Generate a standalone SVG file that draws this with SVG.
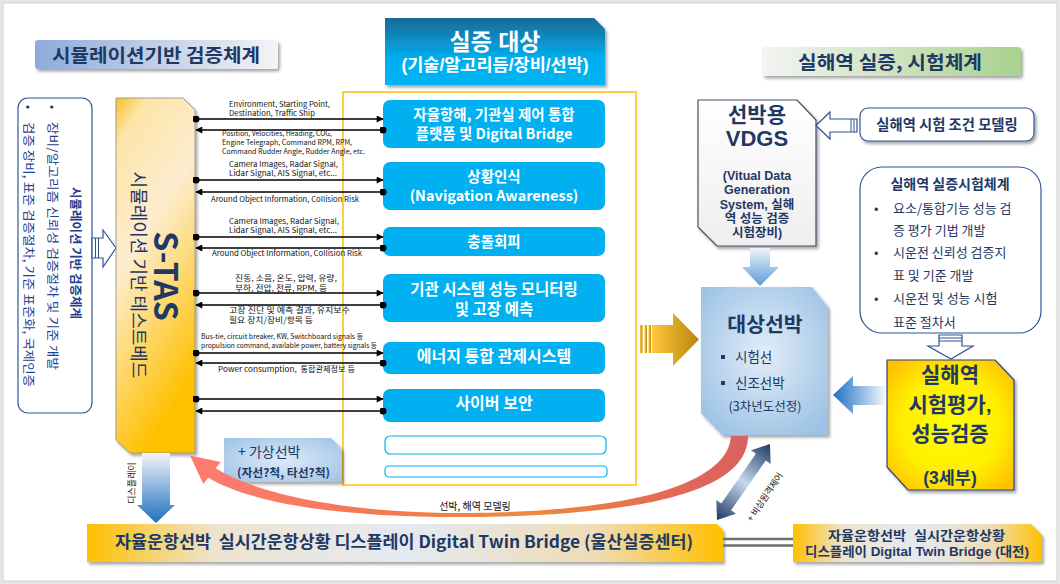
<svg xmlns="http://www.w3.org/2000/svg" width="1060" height="584" viewBox="0 0 1060 584">
<defs>
<style>
text{font-family:'Noto Sans CJK KR','Noto Sans',sans-serif}
text.lf{font-family:'Liberation Sans','Noto Sans CJK KR',sans-serif}
.b{font-weight:700}
.nv{fill:#1f3864}
.wt{fill:#fff;font-weight:700;text-anchor:middle}
.sm{fill:#111}
.mid{text-anchor:middle}
.ln{stroke:#000;stroke-width:1.3;fill:none;marker-start:url(#dot);marker-end:url(#arr)}
.bb{fill:#00b0f0}
.eb{fill:#fff;stroke:#00b0f0;stroke-width:1.2}
.hol{fill:#fff;stroke:#2f5597;stroke-width:1.2}
.stp{stroke:#2f5597;stroke-width:1}
.lb{fill:#1f3f8f}
</style>
<marker id="arr" viewBox="0 0 10 10" refX="9" refY="5" markerWidth="9" markerHeight="7" orient="auto" markerUnits="userSpaceOnUse"><path d="M0,0L10,5L0,10z"/></marker>
<marker id="dot" viewBox="0 0 10 10" refX="5" refY="5" markerWidth="7" markerHeight="7" markerUnits="userSpaceOnUse"><circle cx="5" cy="5" r="5"/></marker>
<filter id="sh" x="-10%" y="-10%" width="130%" height="140%"><feDropShadow dx="2" dy="2.5" stdDeviation="1.5" flood-color="#000" flood-opacity="0.35"/></filter>
<linearGradient id="gLB" x1="0" y1="0" x2="1" y2="0"><stop offset="0" stop-color="#8eaadb"/><stop offset="1" stop-color="#f4f4f4"/></linearGradient>
<linearGradient id="gRB" x1="0" y1="0" x2="1" y2="0"><stop offset="0" stop-color="#f4f4f4"/><stop offset="1" stop-color="#a9d18e"/></linearGradient>
<linearGradient id="gTop" x1="0" y1="0" x2="0" y2="1"><stop offset="0" stop-color="#1a6996"/><stop offset="0.6" stop-color="#00aeee"/><stop offset="1" stop-color="#00b4f4"/></linearGradient>
<linearGradient id="gSt" x1="0" y1="0" x2="0.35" y2="1"><stop offset="0" stop-color="#fbbf2a"/><stop offset="0.12" stop-color="#fde4a6"/><stop offset="0.45" stop-color="#fdedd0"/><stop offset="1" stop-color="#ffc000"/></linearGradient>
<linearGradient id="gGold" x1="0" y1="0" x2="1" y2="0"><stop offset="0" stop-color="#ffc83c"/><stop offset="1" stop-color="#b8860b"/></linearGradient>
<linearGradient id="gBD" x1="0" y1="0" x2="0" y2="1"><stop offset="0" stop-color="#f3f6fa"/><stop offset="1" stop-color="#1f6fc0"/></linearGradient>
<linearGradient id="gBD2" x1="0" y1="0" x2="0" y2="1"><stop offset="0" stop-color="#eef4fa"/><stop offset="1" stop-color="#5b9bd5"/></linearGradient>
<linearGradient id="gBL" x1="0" y1="0" x2="1" y2="0"><stop offset="0" stop-color="#1a6fc4"/><stop offset="1" stop-color="#f4f7fb"/></linearGradient>
<radialGradient id="gT" cx="0.5" cy="0.45" r="0.65"><stop offset="0" stop-color="#e2edf8"/><stop offset="1" stop-color="#9cc2e5"/></radialGradient>
<radialGradient id="gY" cx="0.5" cy="0.5" r="0.65"><stop offset="0" stop-color="#ffff00"/><stop offset="0.6" stop-color="#ffee00"/><stop offset="1" stop-color="#ffc000"/></radialGradient>
<linearGradient id="gVd" x1="0" y1="0" x2="0" y2="1"><stop offset="0" stop-color="#ffffff"/><stop offset="1" stop-color="#eeeeee"/></linearGradient>
<radialGradient id="gV" cx="0.5" cy="0.5" r="0.7"><stop offset="0" stop-color="#dfeaf7"/><stop offset="1" stop-color="#9dc3e6"/></radialGradient>
<linearGradient id="gBot" x1="0" y1="0" x2="1" y2="0"><stop offset="0" stop-color="#ffc000"/><stop offset="0.2" stop-color="#eee3cf"/><stop offset="0.5" stop-color="#e4eaf2"/><stop offset="0.8" stop-color="#efdcb5"/><stop offset="1" stop-color="#ffc000"/></linearGradient>
<linearGradient id="gRed" gradientUnits="userSpaceOnUse" x1="190" y1="0" x2="750" y2="0"><stop offset="0" stop-color="#ff7b73"/><stop offset="0.35" stop-color="#f4794f"/><stop offset="0.6" stop-color="#ed8a3a"/><stop offset="0.85" stop-color="#e36a55"/><stop offset="1" stop-color="#d96060"/></linearGradient>
<linearGradient id="gDbl" gradientUnits="userSpaceOnUse" x1="0" y1="0" x2="92.6" y2="0"><stop offset="0" stop-color="#203864"/><stop offset="0.5" stop-color="#c5d9ef"/><stop offset="1" stop-color="#203864"/></linearGradient>
</defs>

<rect width="1060" height="584" fill="#e6e6e6"/>
<rect x="3" y="3" width="1054" height="578" fill="#fff" stroke="#d0d0d0" stroke-width="1"/>

<g id="title-left">
<rect x="35" y="40" width="243" height="29" rx="3" fill="url(#gLB)" filter="url(#sh)"/>
<text x="52" y="61.5" class="b nv" font-size="18.5" textLength="208" lengthAdjust="spacingAndGlyphs">시뮬레이션기반 검증체계</text>
</g>

<g id="left-box">
<rect x="18" y="98" width="74" height="315" rx="10" fill="#fff" stroke="#2f5597" stroke-width="1.2"/>
<text transform="translate(75,253) rotate(90)" dy=".35em" class="mid b lb" font-size="12.5">시뮬레이션 기반 검증체계</text>
<text transform="translate(52,107) rotate(90)" dy=".35em" class="mid lb" font-size="12.5">•</text>
<text transform="translate(52,122) rotate(90)" dy=".35em" class="lb" font-size="12.5" textLength="248" lengthAdjust="spacingAndGlyphs">장비/알고리즘 신뢰성 검증절차 및 기준 개발</text>
<text transform="translate(28,107) rotate(90)" dy=".35em" class="mid lb" font-size="12.5">•</text>
<text transform="translate(28,122) rotate(90)" dy=".35em" class="lb" font-size="12.5" textLength="265" lengthAdjust="spacingAndGlyphs">검증 장비, 표준 검증절차, 기준 표준화, 국제인증</text>
</g>

<g id="arrow-left-hollow">
<path class="hol" d="M92,238 L103,238 L103,230 L116,248 L103,267 L103,258 L92,258 Z"/>
<line class="stp" x1="95.5" y1="238" x2="95.5" y2="258"/>
<line class="stp" x1="98.5" y1="238" x2="98.5" y2="258"/>
</g>

<g id="stas">
<path d="M116,98 L183,98 L195,110 L195,453 L130,453 L116,440 Z" fill="url(#gSt)" stroke="#8a8a8a" stroke-width="0.8" filter="url(#sh)"/>
<text transform="translate(165,276) rotate(90)" dy=".34em" class="mid b nv" font-size="32">S-TAS</text>
<text transform="translate(138,275) rotate(90)" dy=".35em" class="mid nv" font-size="18">시뮬레이션 기반 테스트베드</text>
</g>

<g id="container">
<rect x="343" y="92" width="293" height="393" fill="#fff" stroke="#ffc000" stroke-width="1.5"/>
</g>

<g id="title-center">
<path d="M385,18 L594,18 L605,29 L605,85 L385,85 Z" fill="url(#gTop)" filter="url(#sh)"/>
<text class="lf wt"><tspan x="495" y="50" font-size="23">실증 대상</tspan><tspan x="495" y="71" font-size="17.5">(기술/알고리듬/장비/선박)</tspan></text>
</g>

<g id="box-nav">
<rect class="bb" x="383" y="100" width="222" height="48" rx="7"/>
<text class="wt" font-size="14.5"><tspan x="494" y="120">자율항해, 기관실 제어 통합</tspan><tspan x="494" y="139">플랫폼 및 Digital Bridge</tspan></text>
</g>
<g id="box-aware">
<rect class="bb" x="383" y="162" width="222" height="48" rx="7"/>
<text class="wt" font-size="14.5"><tspan x="494" y="182">상황인식</tspan><tspan x="494" y="201">(Navigation Awareness)</tspan></text>
</g>
<g id="box-collision">
<rect class="bb" x="383" y="227" width="222" height="29" rx="7"/>
<text x="494" y="247" class="wt" font-size="14.5">충돌회피</text>
</g>
<g id="box-engine">
<rect class="bb" x="383" y="274" width="222" height="48" rx="7"/>
<text class="wt" font-size="15.5"><tspan x="494" y="294.5">기관 시스템 성능 모니터링</tspan><tspan x="494" y="314.5">및 고장 예측</tspan></text>
</g>
<g id="box-energy">
<rect class="bb" x="383" y="342" width="222" height="32" rx="7"/>
<text x="494" y="361.6" class="wt" font-size="16">에너지 통합 관제시스템</text>
</g>
<g id="box-cyber">
<rect class="bb" x="383" y="389" width="222" height="33" rx="7"/>
<text x="494" y="408.6" class="wt" font-size="16">사이버 보안</text>
</g>
<g id="box-empty1"><rect class="eb" x="385" y="436" width="221" height="18" rx="5"/></g>
<g id="box-empty2"><rect class="eb" x="385" y="466" width="222" height="11" rx="4"/></g>

<g id="connectors">
<path class="ln" d="M196,119 L383,119"/>
<path class="ln" d="M383,130 L196,130"/>
<path class="ln" d="M196,180 L383,180"/>
<path class="ln" d="M383,192 L196,192"/>
<path class="ln" d="M196,237 L383,237"/>
<path class="ln" d="M383,248 L196,248"/>
<path class="ln" d="M196,293 L383,293"/>
<path class="ln" d="M383,305 L196,305"/>
<path class="ln" d="M196,353 L383,353"/>
<path class="ln" d="M383,363 L196,363"/>
<path class="ln" d="M196,399 L383,399"/>
<path class="ln" d="M383,411 L196,411"/>
<text class="sm" font-size="7.5"><tspan x="229" y="106.5" textLength="101" lengthAdjust="spacingAndGlyphs">Environment, Starting Point,</tspan><tspan x="229" y="115.5" textLength="86" lengthAdjust="spacingAndGlyphs">Destination, Traffic Ship</tspan></text>
<text class="sm" font-size="7"><tspan x="222" y="135.5" textLength="110" lengthAdjust="spacingAndGlyphs">Position, Velocities, Heading, COG,</tspan><tspan x="222" y="144.5" textLength="130" lengthAdjust="spacingAndGlyphs">Engine Telegraph, Command RPM, RPM,</tspan><tspan x="222" y="153.5" textLength="143" lengthAdjust="spacingAndGlyphs">Command Rudder Angle, Rudder Angle, etc.</tspan></text>
<text class="sm" font-size="7.5"><tspan x="229" y="166.5" textLength="109" lengthAdjust="spacingAndGlyphs">Camera Images, Radar Signal,</tspan><tspan x="229" y="175.5" textLength="108" lengthAdjust="spacingAndGlyphs">Lidar Signal, AIS Signal, etc...</tspan></text>
<text x="211" y="201.5" class="sm" font-size="7.5" textLength="148" lengthAdjust="spacingAndGlyphs">Around Object Information, Collision Risk</text>
<text class="sm" font-size="7.5"><tspan x="229" y="223.5" textLength="110" lengthAdjust="spacingAndGlyphs">Camera Images, Radar Signal,</tspan><tspan x="229" y="232.5" textLength="108" lengthAdjust="spacingAndGlyphs">Lidar Signal, AIS Signal, etc...</tspan></text>
<text x="212" y="255.5" class="sm" font-size="7.5" textLength="150" lengthAdjust="spacingAndGlyphs">Around Object Information, Collision Risk</text>
<text class="sm" font-size="8"><tspan x="235" y="281" textLength="102" lengthAdjust="spacingAndGlyphs">진동, 소음, 온도, 압력, 유량,</tspan><tspan x="235" y="291" textLength="92" lengthAdjust="spacingAndGlyphs">부하, 전압, 전류, RPM, 등</tspan></text>
<text class="sm" font-size="8"><tspan x="229" y="313" textLength="121" lengthAdjust="spacingAndGlyphs">고장 진단 및 예측 결과, 유지보수</tspan><tspan x="229" y="323" textLength="84" lengthAdjust="spacingAndGlyphs">필요 장치/장비/항목 등</tspan></text>
<text class="sm" font-size="7"><tspan x="201" y="338.5" textLength="162" lengthAdjust="spacingAndGlyphs">Bus-tie, circuit breaker, KW, Switchboard signals 등</tspan><tspan x="201" y="347.5" textLength="176" lengthAdjust="spacingAndGlyphs">propulsion command, available power, battery signals 등</tspan></text>
<text x="218" y="371.5" class="sm" font-size="7.5" textLength="137" lengthAdjust="spacingAndGlyphs" xml:space="preserve">Power consumption,  통합관제정보 등</text>
</g>

<g id="virtual-ship">
<path d="M224,438 L331,438 L342,449 L342,482 L224,482 Z" fill="url(#gV)" filter="url(#sh)"/>
<text class="nv"><tspan x="238" y="457" font-size="14">+ 가상선박</tspan><tspan x="237" y="477" font-size="11.5" font-weight="700" textLength="93" lengthAdjust="spacingAndGlyphs">(자선?척, 타선?척)</tspan></text>
</g>

<g id="arrow-gold">
<rect x="640" y="325" width="2.5" height="28" fill="url(#gGold)"/>
<rect x="644.5" y="325" width="2.5" height="28" fill="url(#gGold)"/>
<rect x="648.5" y="325" width="2.5" height="28" fill="url(#gGold)"/>
<path d="M652,325 L673,325 L673,313 L699,339.5 L673,366 L673,353 L652,353 Z" fill="url(#gGold)"/>
</g>

<g id="title-right">
<rect x="762" y="47" width="259" height="29" rx="3" fill="url(#gRB)" filter="url(#sh)"/>
<text x="798" y="69" class="b nv" font-size="18.5" textLength="184" lengthAdjust="spacingAndGlyphs">실해역 실증, 시험체계</text>
</g>

<g id="vdgs">
<path d="M698,100 L797,100 L816,120 L816,246 L717,246 L698,227 Z" fill="url(#gVd)" stroke="#404f6a" stroke-width="1.2" filter="url(#sh)"/>
<text class="lf mid b nv"><tspan x="757" y="121.5" font-size="21">선박용</tspan><tspan x="757" y="146" font-size="22">VDGS</tspan><tspan x="757" y="180" font-size="12.5">(Vitual Data</tspan><tspan x="757" y="194.3" font-size="12.5">Generation</tspan><tspan x="757" y="208.6" font-size="12.5">System, 실해</tspan><tspan x="757" y="222.9" font-size="12.5">역 성능 검증</tspan><tspan x="757" y="237.2" font-size="12.5">시험장비)</tspan></text>
</g>

<g id="arrow-model-hollow">
<path class="hol" d="M816,125.5 L830,112 L830,119 L857,119 L857,132 L830,132 L830,139 Z"/>
<line class="stp" x1="851" y1="119" x2="851" y2="132"/>
<line class="stp" x1="854" y1="119" x2="854" y2="132"/>
</g>

<g id="sea-model">
<rect x="860" y="108" width="174" height="33" rx="8" fill="#fff" stroke="#2f5597" stroke-width="1.2" filter="url(#sh)"/>
<text x="947" y="130" class="mid b nv" font-size="14.3">실해역 시험 조건 모델링</text>
</g>

<g id="sea-system">
<rect x="860" y="167" width="181" height="166" rx="22" fill="#fff" stroke="#2f5597" stroke-width="1.2"/>
<text x="950" y="189" class="mid b nv" font-size="14">실해역 실증시험체계</text>
<text class="nv" font-size="13"><tspan x="874" y="212.5">•</tspan><tspan x="893" y="212.5">요소/통합기능 성능 검</tspan><tspan x="893" y="234.5">증 평가 기법 개발</tspan><tspan x="874" y="256.5">•</tspan><tspan x="893" y="256.5">시운전 신뢰성 검증지</tspan><tspan x="893" y="279.5">표 및 기준 개발</tspan><tspan x="874" y="302.5">•</tspan><tspan x="893" y="302.5">시운전 및 성능 시험</tspan><tspan x="893" y="326.5">표준 절차서</tspan></text>
</g>

<g id="arrow-down-hollow">
<path class="hol" d="M939,335 L962,335 L962,346 L973,346 L951,359 L928,346 L939,346 Z"/>
<line class="stp" x1="939" y1="338" x2="962" y2="338"/>
<line class="stp" x1="939" y1="341" x2="962" y2="341"/>
</g>

<g id="sea-eval">
<path d="M887,360 L995,360 L1014,380 L1014,490 L908,490 L887,467 Z" fill="url(#gY)" stroke="#2f3f80" stroke-width="1.2" filter="url(#sh)"/>
<text class="lf mid b nv" font-size="21"><tspan x="950" y="382">실해역</tspan><tspan x="950" y="412">시험평가,</tspan><tspan x="950" y="441">성능검증</tspan><tspan x="950" y="484" font-size="17.5">(3세부)</tspan></text>
</g>

<g id="arrow-blue-left">
<path d="M833,395 L853,376 L853,386 L885,386 L885,405 L853,405 L853,414 Z" fill="url(#gBL)"/>
</g>

<g id="arrow-blue-down2">
<path d="M750,248 L770,248 L770,267 L779,267 L760,286 L742,267 L750,267 Z" fill="url(#gBD2)"/>
</g>

<g id="target-ship">
<path d="M701,287 L812,287 L828,307 L828,435 L722,435 L701,413 Z" fill="url(#gT)" filter="url(#sh)"/>
<text x="765" y="332" class="mid b nv" font-size="20.5">대상선박</text>
<rect x="721" y="355" width="4" height="4" fill="#1f3864"/>
<rect x="721" y="381" width="4" height="4" fill="#1f3864"/>
<text class="nv" font-size="13.5"><tspan x="735" y="361.7">시험선</tspan><tspan x="735" y="387.7">신조선박</tspan></text>
<text x="765" y="411.4" class="mid nv" font-size="12.5">(3차년도선정)</text>
</g>

<g id="red-curve">
<path d="M731,436 C728,482 640,511 470,513 C360,514 262,497 215.7,468.3 L220.7,462.1 L190,455.6 L203.3,483.9 L208.3,477.7 C258,507 360,518 470,517 C650,515 748,490 748,436 Z" fill="url(#gRed)"/>
<text x="475" y="509.5" class="mid sm" font-size="10">선박, 해역 모델링</text>
</g>

<g id="arrow-remote">
<path transform="translate(717,520) rotate(-55.1)" d="M0,0 L16,-12 L16,-6 L76.6,-6 L76.6,-12 L92.6,0 L76.6,12 L76.6,6 L16,6 L16,12 Z" fill="url(#gDbl)"/>
<text transform="translate(765,497) rotate(-56)" dy=".35em" class="mid sm" font-size="9">+ 비상원격제어</text>
</g>

<g id="arrow-blue-down">
<path d="M142,453 L170,453 L170,505 L175,505 L156,523 L137,505 L142,505 Z" fill="url(#gBD)"/>
<text transform="translate(132,483) rotate(-90)" dy=".35em" class="mid sm" font-size="9">디스플레이</text>
</g>

<g id="bridge-ulsan">
<path d="M87,524 L717,524 L723,530 L723,562 L87,562 Z" fill="url(#gBot)" filter="url(#sh)"/>
<text x="115" y="548" class="b nv" font-size="17" textLength="578" lengthAdjust="spacingAndGlyphs" xml:space="preserve">자율운항선박  실시간운항상황 디스플레이 Digital Twin Bridge (울산실증센터)</text>
</g>

<g id="link-bridges">
<line x1="723" y1="539" x2="793" y2="539" stroke="#6e6e6e" stroke-width="2.5"/>
<line x1="723" y1="545.5" x2="793" y2="545.5" stroke="#6e6e6e" stroke-width="2.5"/>
</g>

<g id="bridge-daejeon">
<path d="M793,524 L1031,524 L1042,535 L1042,562 L793,562 Z" fill="url(#gBot)" filter="url(#sh)"/>
<text class="lf b nv" font-size="13" xml:space="preserve"><tspan x="828" y="539.5" textLength="177" lengthAdjust="spacingAndGlyphs">자율운항선박  실시간운항상황</tspan><tspan x="805" y="555.5" textLength="224" lengthAdjust="spacingAndGlyphs">디스플레이 Digital Twin Bridge (대전)</tspan></text>
</g>
</svg>
